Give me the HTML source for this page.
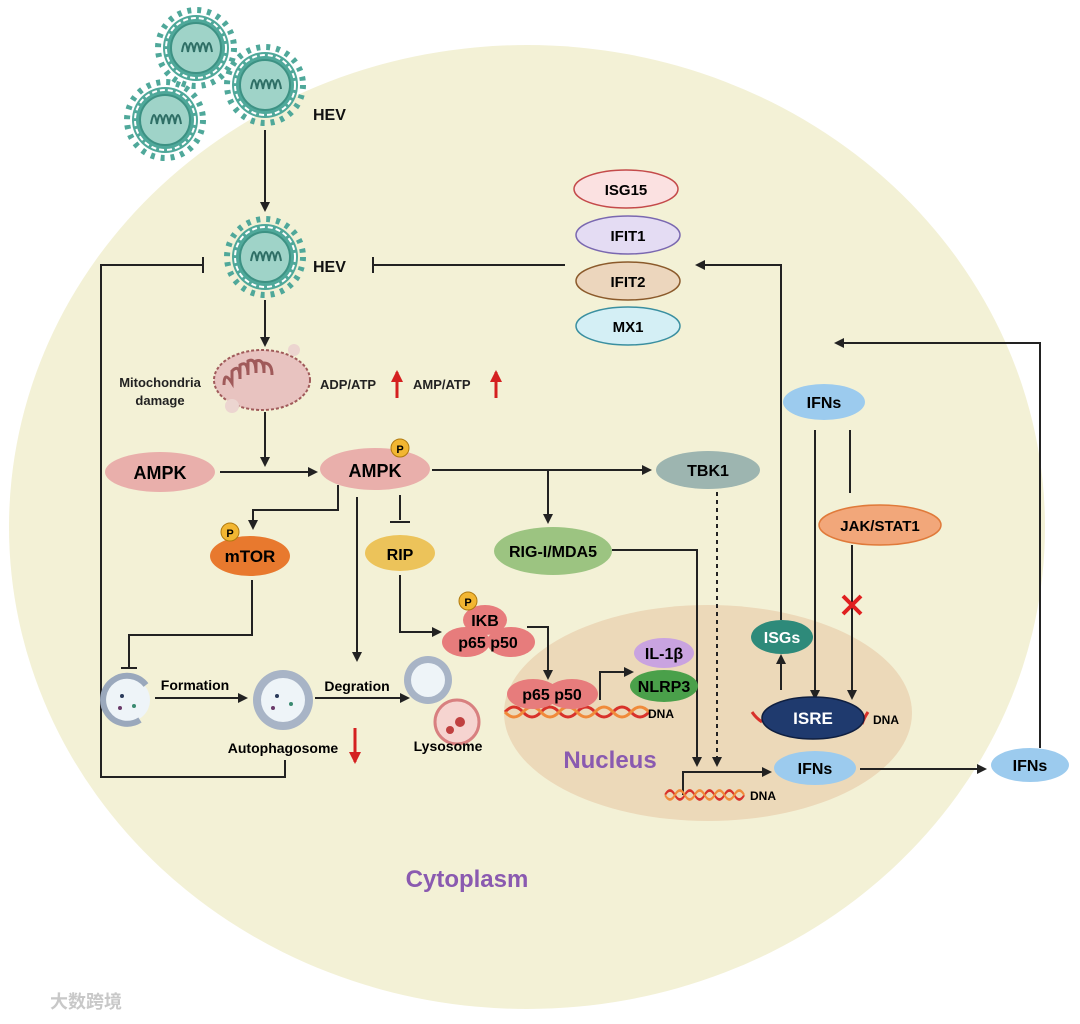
<!DOCTYPE html>
<html><head><meta charset="utf-8"><style>
html,body{margin:0;padding:0;background:#fff;}
svg{display:block;font-family:"Liberation Sans",sans-serif;font-weight:bold;}
</style></head><body>
<svg width="1080" height="1024" viewBox="0 0 1080 1024" xmlns="http://www.w3.org/2000/svg">
<defs>
<marker id="a" markerWidth="10" markerHeight="10" refX="8" refY="5" orient="auto" markerUnits="userSpaceOnUse"><path d="M0,0 L10,5 L0,10 z" fill="#222"/></marker>
<marker id="r" markerWidth="12" markerHeight="12" refX="10" refY="6" orient="auto" markerUnits="userSpaceOnUse"><path d="M0,0 L12,6 L0,12 z" fill="#d42020"/></marker>
<g id="virus">
<circle r="33" fill="#4fa89a"/>
<circle r="30" fill="none" stroke="#fff" stroke-width="2" stroke-dasharray="5 3"/>
<circle r="25" fill="#9fd3c8" stroke="#3d9284" stroke-width="2"/>
<path d="M-14,4 q3,-18 6,0 q3,-18 6,0 q3,-18 6,0 q3,-18 6,0 q3,-18 6,0" fill="none" stroke="#2f6f66" stroke-width="2"/>
<circle r="38" fill="none" stroke="#4fa89a" stroke-width="6" stroke-dasharray="4 6"/>
</g>
<g id="dna">
<path d="M0,0 q9,-10 18,0 t18,0 t18,0 t18,0 t18,0 t18,0 t18,0 t18,0" fill="none" stroke="#d8322a" stroke-width="3"/>
<path d="M0,0 q9,10 18,0 t18,0 t18,0 t18,0 t18,0 t18,0 t18,0 t18,0" fill="none" stroke="#f08a3a" stroke-width="3"/>
</g>
</defs>
<rect width="1080" height="1024" fill="#fff"/>
<ellipse cx="527" cy="527" rx="518" ry="482" fill="#f3f1d6"/>
<ellipse cx="708" cy="713" rx="204" ry="108" fill="#ecd9b9"/>

<use href="#virus" x="196" y="48"/>
<use href="#virus" x="265" y="85"/>
<use href="#virus" x="165" y="120"/>
<use href="#virus" x="265" y="257"/>
<text x="313" y="120" font-size="16" fill="#111">HEV</text>
<text x="313" y="272" font-size="16" fill="#111">HEV</text>

<g stroke="#222" stroke-width="2" fill="none">
<path d="M265,130 V210" marker-end="url(#a)"/>
<path d="M265,300 V345" marker-end="url(#a)"/>
<path d="M285,760 V777 H101 V265 H203 M203,257 V273"/>
<path d="M565,265 H373 M373,257 V273"/>
<path d="M781,620 V265 H697" marker-end="url(#a)"/>
<path d="M265,412 V465" marker-end="url(#a)"/>
<path d="M220,472 H316" marker-end="url(#a)"/>
<path d="M432,470 H650" marker-end="url(#a)"/>
<path d="M548,470 V522" marker-end="url(#a)"/>
<path d="M338,485 V510 H253 V528" marker-end="url(#a)"/>
<path d="M357,497 V660" marker-end="url(#a)"/>
<path d="M400,495 V520 M390,522 H410"/>
<path d="M400,575 V632 H440" marker-end="url(#a)"/>
<path d="M252,580 V635 H129 V668 M121,668 H137"/>
<path d="M155,698 H246" marker-end="url(#a)"/>
<path d="M315,698 H408" marker-end="url(#a)"/>
<path d="M527,627 H548 V678" marker-end="url(#a)"/>
<path d="M600,700 V672 H632" marker-end="url(#a)"/>
<path d="M612,550 H697 V765" marker-end="url(#a)"/>
<path d="M717,492 V765" stroke-dasharray="4 4" marker-end="url(#a)"/>
<path d="M683,795 V772 H770" marker-end="url(#a)"/>
<path d="M860,769 H985" marker-end="url(#a)"/>
<path d="M1040,748 V343 H836" marker-end="url(#a)"/>
<path d="M815,430 V698" marker-end="url(#a)"/>
<path d="M850,430 V493"/>
<path d="M852,545 V698" marker-end="url(#a)"/>
<path d="M781,690 V656" marker-end="url(#a)"/>
</g>
<path d="M397,398 V372" stroke="#d42020" stroke-width="3" marker-end="url(#r)"/>
<path d="M496,398 V372" stroke="#d42020" stroke-width="3" marker-end="url(#r)"/>
<path d="M355,728 V762" stroke="#d42020" stroke-width="3" marker-end="url(#r)"/>
<path d="M843,596 L861,614 M861,596 L843,614" stroke="#e02020" stroke-width="4"/>

<!-- pills -->
<ellipse cx="626" cy="189" rx="52" ry="19" fill="#fbe1e1" stroke="#c44a4a" stroke-width="1.5"/>
<text x="626" y="195" font-size="15" text-anchor="middle">ISG15</text>
<ellipse cx="628" cy="235" rx="52" ry="19" fill="#e4dcf3" stroke="#7a68b0" stroke-width="1.5"/>
<text x="628" y="241" font-size="15" text-anchor="middle">IFIT1</text>
<ellipse cx="628" cy="281" rx="52" ry="19" fill="#ecd6bd" stroke="#8b5a2b" stroke-width="1.5"/>
<text x="628" y="287" font-size="15" text-anchor="middle">IFIT2</text>
<ellipse cx="628" cy="326" rx="52" ry="19" fill="#d4eff5" stroke="#3a8fa0" stroke-width="1.5"/>
<text x="628" y="332" font-size="15" text-anchor="middle">MX1</text>

<!-- mitochondria -->
<g transform="translate(262,380)">
<ellipse rx="48" ry="30" fill="#e8c3c0" stroke="#a05a5a" stroke-width="2" stroke-dasharray="3 2"/>
<path d="M-38,5 q0,-15 8,-2 v-12 q8,-8 8,8 v-14 q8,-5 8,10 v-14 q8,-4 8,12 v-12 q8,-3 8,12 v-10 q8,0 8,12" fill="none" stroke="#a05a5a" stroke-width="3"/>
<circle cx="32" cy="-30" r="6" fill="#ecd5d0"/><circle cx="-30" cy="26" r="7" fill="#ecd5d0"/>
</g>
<text x="160" y="387" font-size="13" text-anchor="middle" fill="#222">Mitochondria</text>
<text x="160" y="405" font-size="13" text-anchor="middle" fill="#222">damage</text>
<text x="320" y="389" font-size="13" fill="#222">ADP/ATP</text>
<text x="413" y="389" font-size="13" fill="#222">AMP/ATP</text>

<ellipse cx="160" cy="472" rx="55" ry="20" fill="#e9afab"/>
<text x="160" y="479" font-size="18" text-anchor="middle">AMPK</text>
<ellipse cx="375" cy="469" rx="55" ry="21" fill="#e9afab"/>
<text x="375" y="477" font-size="18" text-anchor="middle">AMPK</text>
<circle cx="400" cy="448" r="9" fill="#f2b632" stroke="#b07a10"/><text x="400" y="453" font-size="11" text-anchor="middle">P</text>
<ellipse cx="708" cy="470" rx="52" ry="19" fill="#9db5b0"/>
<text x="708" y="476" font-size="16" text-anchor="middle">TBK1</text>
<ellipse cx="553" cy="551" rx="59" ry="24" fill="#9cc481"/>
<text x="553" y="557" font-size="16" text-anchor="middle">RIG-I/MDA5</text>
<ellipse cx="250" cy="556" rx="40" ry="20" fill="#e8792e"/>
<text x="250" y="562" font-size="17" text-anchor="middle">mTOR</text>
<circle cx="230" cy="532" r="9" fill="#f2b632" stroke="#b07a10"/><text x="230" y="537" font-size="11" text-anchor="middle">P</text>
<ellipse cx="400" cy="553" rx="35" ry="18" fill="#ecc35a"/>
<text x="400" y="560" font-size="16" text-anchor="middle">RIP</text>

<!-- IKB -->
<ellipse cx="485" cy="620" rx="22" ry="15" fill="#e77c7c"/>
<ellipse cx="466" cy="642" rx="24" ry="15" fill="#e77c7c"/>
<ellipse cx="511" cy="642" rx="24" ry="15" fill="#e77c7c"/>
<text x="485" y="626" font-size="16" text-anchor="middle">IKB</text>
<text x="488" y="648" font-size="16" text-anchor="middle">p65 p50</text>
<circle cx="468" cy="601" r="9" fill="#f2b632" stroke="#b07a10"/><text x="468" y="606" font-size="11" text-anchor="middle">P</text>

<!-- autophagy -->
<g transform="translate(128,700)">
<circle r="22" fill="#eef4f8"/>
<path d="M12,20 A24,24 0 1 1 18,-15" fill="none" stroke="#9aa8bc" stroke-width="6"/>
<circle cx="-6" cy="-4" r="2" fill="#2a3a5a"/><circle cx="6" cy="6" r="2" fill="#3a8a70"/><circle cx="-8" cy="8" r="2" fill="#6a3a6a"/>
</g>
<g transform="translate(283,700)">
<circle r="30" fill="#a8b4c6"/><circle r="22" fill="#eef4f8"/>
<circle cx="-6" cy="-4" r="2" fill="#2a3a5a"/><circle cx="8" cy="4" r="2" fill="#3a8a70"/><circle cx="-10" cy="8" r="2" fill="#6a3a6a"/>
</g>
<g>
<circle cx="457" cy="722" r="22" fill="#f6d4d0" stroke="#d88080" stroke-width="3"/>
<circle cx="428" cy="680" r="24" fill="#a8b4c6"/><circle cx="428" cy="680" r="17" fill="#eef4f8"/>
<circle cx="460" cy="722" r="5" fill="#c04040"/><circle cx="450" cy="730" r="4" fill="#c04040"/>
</g>
<text x="195" y="690" font-size="14" text-anchor="middle">Formation</text>
<text x="357" y="691" font-size="14" text-anchor="middle">Degration</text>
<text x="283" y="753" font-size="14" text-anchor="middle">Autophagosome</text>
<text x="448" y="751" font-size="14" text-anchor="middle">Lysosome</text>

<!-- nucleus content -->
<use href="#dna" x="505" y="712"/>
<ellipse cx="533" cy="694" rx="26" ry="15" fill="#e77c7c"/>
<ellipse cx="572" cy="694" rx="26" ry="15" fill="#e77c7c"/>
<text x="552" y="700" font-size="16" text-anchor="middle">p65 p50</text>
<text x="648" y="718" font-size="12">DNA</text>
<ellipse cx="664" cy="653" rx="30" ry="15" fill="#c9a3e0"/>
<text x="664" y="659" font-size="16" text-anchor="middle">IL-1β</text>
<ellipse cx="664" cy="686" rx="34" ry="16" fill="#4aa04a"/>
<text x="664" y="692" font-size="16" text-anchor="middle">NLRP3</text>
<text x="610" y="768" font-size="24" text-anchor="middle" fill="#8a5ab0">Nucleus</text>
<use href="#dna" x="665" y="795" transform="translate(665,795) scale(0.55,0.9) translate(-665,-795)"/>
<text x="750" y="800" font-size="12">DNA</text>

<ellipse cx="824" cy="402" rx="41" ry="18" fill="#9ccbee"/>
<text x="824" y="408" font-size="16" text-anchor="middle">IFNs</text>
<ellipse cx="880" cy="525" rx="61" ry="20" fill="#f2a77a" stroke="#e07a3a" stroke-width="1.5"/>
<text x="880" y="531" font-size="15" text-anchor="middle">JAK/STAT1</text>
<ellipse cx="782" cy="637" rx="31" ry="17" fill="#2e8a7a"/>
<text x="782" y="643" font-size="16" text-anchor="middle" fill="#fff">ISGs</text>
<path d="M752,712 q4,6 10,10 M868,712 q-4,6 -6,12" stroke="#d8322a" stroke-width="3" fill="none"/>
<ellipse cx="813" cy="718" rx="51" ry="21" fill="#1f3a6e" stroke="#0f1f40" stroke-width="1.5"/>
<text x="813" y="724" font-size="17" text-anchor="middle" fill="#fff">ISRE</text>
<text x="873" y="724" font-size="12">DNA</text>
<ellipse cx="815" cy="768" rx="41" ry="17" fill="#9ccbee"/>
<text x="815" y="774" font-size="16" text-anchor="middle">IFNs</text>
<ellipse cx="1030" cy="765" rx="39" ry="17" fill="#9ccbee"/>
<text x="1030" y="771" font-size="16" text-anchor="middle">IFNs</text>

<text x="467" y="887" font-size="24" text-anchor="middle" fill="#8a5ab0">Cytoplasm</text>
<text x="50" y="1008" font-size="18" fill="#c8c8c8" font-family="'Liberation Sans','Noto Sans CJK SC',sans-serif">大数跨境</text>
</svg>
</body></html>
